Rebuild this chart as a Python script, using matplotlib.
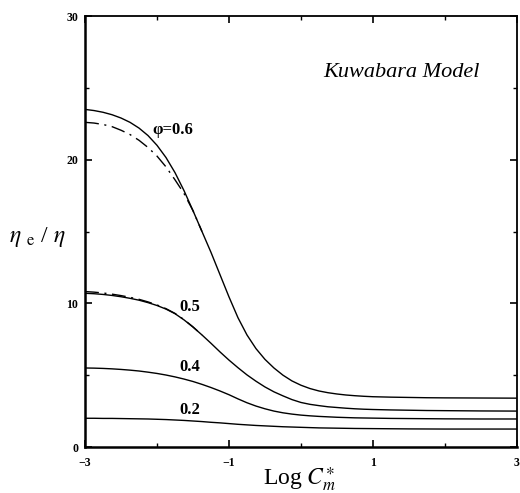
import matplotlib
matplotlib.use("Agg")
import matplotlib.pyplot as plt
from matplotlib.ticker import FixedLocator

plt.rcParams['font.family'] = ['Liberation Serif', 'DejaVu Serif']
plt.rcParams['mathtext.fontset'] = 'stix'

# Data (x = Log Cm*, y = eta_e/eta)
x_grid = [-3.0, -2.875, -2.75, -2.625, -2.5, -2.375, -2.25, -2.125, -2.0, -1.875,
          -1.75, -1.625, -1.5, -1.375, -1.25, -1.125, -1.0, -0.875, -0.75, -0.625,
          -0.5, -0.375, -0.25, -0.125, 0.0, 0.125, 0.25, 0.375, 0.5, 0.625,
          0.75, 0.875, 1.0, 1.25, 1.5, 1.75, 2.0, 2.5, 3.0]
phi06 = [23.50, 23.42, 23.30, 23.13, 22.90, 22.60, 22.20, 21.68, 21.00, 20.15,
         19.10, 17.85, 16.45, 15.00, 13.55, 12.00, 10.45, 9.00, 7.80, 6.85,
         6.10, 5.50, 5.00, 4.60, 4.30, 4.07, 3.90, 3.78, 3.69, 3.62,
         3.57, 3.53, 3.50, 3.47, 3.45, 3.43, 3.42, 3.41, 3.40]
phi05 = [10.70, 10.67, 10.62, 10.55, 10.46, 10.35, 10.22, 10.05, 9.85, 9.60,
         9.28, 8.85, 8.35, 7.80, 7.22, 6.62, 6.05, 5.52, 5.02, 4.58,
         4.18, 3.84, 3.56, 3.30, 3.10, 2.97, 2.88, 2.80, 2.75, 2.70,
         2.66, 2.63, 2.61, 2.58, 2.56, 2.54, 2.53, 2.51, 2.50]
phi04 = [5.50, 5.49, 5.47, 5.44, 5.40, 5.35, 5.29, 5.21, 5.12, 5.01,
         4.88, 4.73, 4.56, 4.36, 4.14, 3.90, 3.64, 3.35, 3.08, 2.85,
         2.66, 2.50, 2.38, 2.29, 2.22, 2.17, 2.13, 2.10, 2.07, 2.05,
         2.03, 2.02, 2.01, 1.99, 1.98, 1.97, 1.96, 1.95, 1.95]
phi02 = [2.00, 2.00, 1.99, 1.99, 1.98, 1.97, 1.96, 1.95, 1.93, 1.91,
         1.88, 1.85, 1.81, 1.77, 1.72, 1.68, 1.63, 1.58, 1.54, 1.50,
         1.47, 1.44, 1.41, 1.39, 1.37, 1.35, 1.33, 1.32, 1.31, 1.30,
         1.29, 1.285, 1.28, 1.27, 1.26, 1.255, 1.25, 1.25, 1.25]

x_dd = [-3.0, -2.875, -2.75, -2.625, -2.5, -2.375, -2.25, -2.125, -2.0, -1.875,
        -1.75, -1.625, -1.5, -1.375]
phi06_dd = [22.60, 22.55, 22.45, 22.30, 22.05, 21.75, 21.35, 20.85, 20.25, 19.50,
            18.60, 17.65, 16.45, 15.00]
phi05_dd = [10.82, 10.78, 10.72, 10.64, 10.54, 10.42, 10.28, 10.10, 9.89, 9.63,
            9.30, 8.87, 8.36, 7.80]

curve_labels = ["φ=0.6", "0.5", "0.4", "0.2"]
label_x = [-1.78, -1.54, -1.54, -1.54]
label_y = [22.1, 9.75, 5.57, 2.58]

x_ticks = [-3, -1, 1, 3]
x_ticklabels = ["\u22123", "\u22121", "1", "3"]
x_minor = [-2, 0, 2]
y_ticks = [0, 10, 20, 30]
y_minor = [5, 15, 25]

fig = plt.figure(figsize=(5.2, 4.93), dpi=100)
ax = fig.add_axes([0.1635, 0.0933, 0.8305, 0.8742])

for ys in (phi06, phi05, phi04, phi02):
    ax.plot(x_grid, ys, color='black', lw=1.0)
dd = (0, (10, 4, 1.5, 4))
ax.plot(x_dd, phi06_dd, color='black', lw=1.0, ls=dd)
ax.plot(x_dd, phi05_dd, color='black', lw=1.0, ls=dd)

for t, lx, ly in zip(curve_labels, label_x, label_y):
    ax.text(lx, ly, t, ha='center', va='center', fontsize=12, fontweight='bold')

ax.text(1.39, 26.1, "Kuwabara Model", ha='center', va='center', fontsize=16, style='italic')

ax.set_xlim(-3, 3)
ax.set_ylim(0, 30)
ax.xaxis.set_major_locator(FixedLocator(x_ticks))
ax.xaxis.set_minor_locator(FixedLocator(x_minor))
ax.yaxis.set_major_locator(FixedLocator(y_ticks))
ax.yaxis.set_minor_locator(FixedLocator(y_minor))
ax.set_xticklabels(x_ticklabels, fontweight='bold', fontsize=8.5)
ax.set_yticklabels([str(v) for v in y_ticks], fontweight='bold', fontsize=8.5)
ax.tick_params(which='both', direction='in', top=True, right=True)
ax.tick_params(which='major', length=5, width=1.2)
ax.tick_params(which='minor', length=3, width=1.0)
ax.tick_params(axis='x', which='major', pad=7)
ax.tick_params(axis='y', which='major', pad=5)

for s in ('left', 'bottom'):
    ax.spines[s].set_linewidth(1.8)
for s in ('top', 'right'):
    ax.spines[s].set_linewidth(1.3)

fig.text(0.577, 0.028, r"Log $C_m^{\ast}$", fontsize=17, ha='center', va='center')
fig.text(0.071, 0.52, r"$\eta$ $_{\rm e}$ / $\eta$", fontsize=17, ha='center', va='center')

fig.savefig("out.png", dpi=100)
